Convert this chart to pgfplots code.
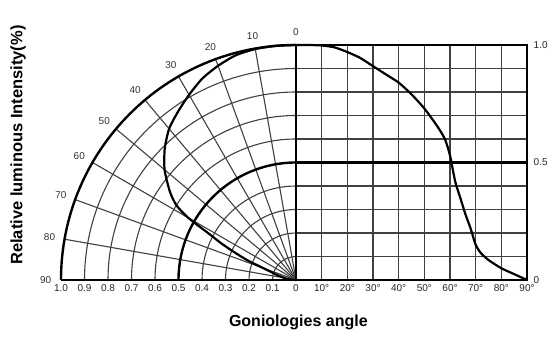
\documentclass[border=0pt]{standalone}
\usepackage{fontspec}
\setmainfont{Liberation Sans}
\usepackage{pgfplots}
\usepackage{pgfplotstable}
\pgfplotsset{compat=1.18}

% relative intensity against angle
\pgfplotstableread{
deg I
0  1.000
5  1.000
10 0.998
15 0.990
20 0.970
25 0.945
30 0.910
35 0.875
40 0.840
45 0.790
50 0.730
55 0.655
58 0.600
60 0.530
62 0.420
64 0.350
66 0.280
68 0.220
70 0.150
72 0.115
75 0.085
80 0.050
85 0.025
90 0.000
}\intensity

\begin{document}
\begin{tikzpicture}[
    gridline/.style={black!75, line width=1.1pt},
    heavy/.style={black, line width=2.4pt},
]
\begin{axis}[
    x=235pt, y=235pt,
    xmin=-1, xmax=0.983,
    ymin=0, ymax=1,
    clip=false,
    axis line style={draw=none},
    tick style={draw=none},
    xtick={-1,-0.9,-0.8,-0.7,-0.6,-0.5,-0.4,-0.3,-0.2,-0.1,0,
           0.1092,0.2184,0.3277,0.4369,0.5461,0.6553,0.7646,0.8738,0.983},
    xticklabels={1.0,0.9,0.8,0.7,0.6,0.5,0.4,0.3,0.2,0.1,0,
           10°,20°,30°,40°,50°,60°,70°,80°,90°},
    ytick={0,0.5,1},
    yticklabels={0,0.5,1.0},
    yticklabel pos=right,
    ticklabel style={font=\fontsize{10}{11}\selectfont, black!85, inner sep=0.5pt},
    xticklabel style={yshift=-4pt},
    yticklabel style={xshift=6pt},
    xlabel={Goniologies angle},
    ylabel={Relative luminous Intensity(\%)},
    xlabel style={at={(axis cs:0.01,-0.179)}, anchor=center,
        font=\bfseries\fontsize{16}{17}\selectfont},
    ylabel style={at={(axis cs:-1.183,0.574)}, anchor=center,
        font=\bfseries\fontsize{16.5}{17}\selectfont},
]

% polar grid on the left
\pgfplotsinvokeforeach{10,20,30,40,50,60,70,80}{
    \draw[gridline] (axis cs:0,0) -- (axis cs:{-sin(#1)},{cos(#1)});
}
\pgfplotsinvokeforeach{0.1,0.2,0.3,0.4,0.6,0.7,0.8,0.9}{
    \draw[gridline] (axis cs:-#1,0) arc[start angle=180, end angle=90, radius=#1*235pt];
}

% cartesian grid on the right
\pgfplotsinvokeforeach{0.1092,0.2184,0.3277,0.4369,0.5461,0.6553,0.7646,0.8738}{
    \draw[gridline] (axis cs:#1,0) -- (axis cs:#1,1);
}
\pgfplotsinvokeforeach{0.1,0.2,0.3,0.4,0.6,0.7,0.8,0.9}{
    \draw[gridline] (axis cs:0,#1) -- (axis cs:0.983,#1);
}

% heavy frame lines
\draw[heavy] (axis cs:-1,0) arc[start angle=180, end angle=90, radius=235pt];
\draw[heavy] (axis cs:-0.5,0) arc[start angle=180, end angle=90, radius=117.5pt];
\draw[heavy] (axis cs:-1,0) -- (axis cs:0.983,0) -- (axis cs:0.983,1) -- (axis cs:0,1) -- (axis cs:0,0);
\draw[heavy] (axis cs:0,0.5) -- (axis cs:0.983,0.5);

% angle labels round the arc
\pgfplotsinvokeforeach{0,10,20,30,40,50,60,70,80,90}{
    \node[font=\fontsize{10}{11}\selectfont, text=black!80, inner sep=0pt]
        at (axis cs:{-1.065*sin(#1)},{1.055*cos(#1)}) {#1};
}

% the curve, cartesian and polar
\addplot[black, line width=2.2pt, smooth, tension=0.4]
    table[x expr=\thisrow{deg}*0.010922, y=I] {\intensity};
\addplot[black, line width=2.2pt, smooth, tension=0.4]
    table[x expr={-\thisrow{I}*sin(\thisrow{deg})}, y expr={\thisrow{I}*cos(\thisrow{deg})}] {\intensity};

% page size
\path (axis cs:-1.2596,-0.2553) rectangle (axis cs:1.0936,1.1915);
\end{axis}
\end{tikzpicture}
\end{document}
